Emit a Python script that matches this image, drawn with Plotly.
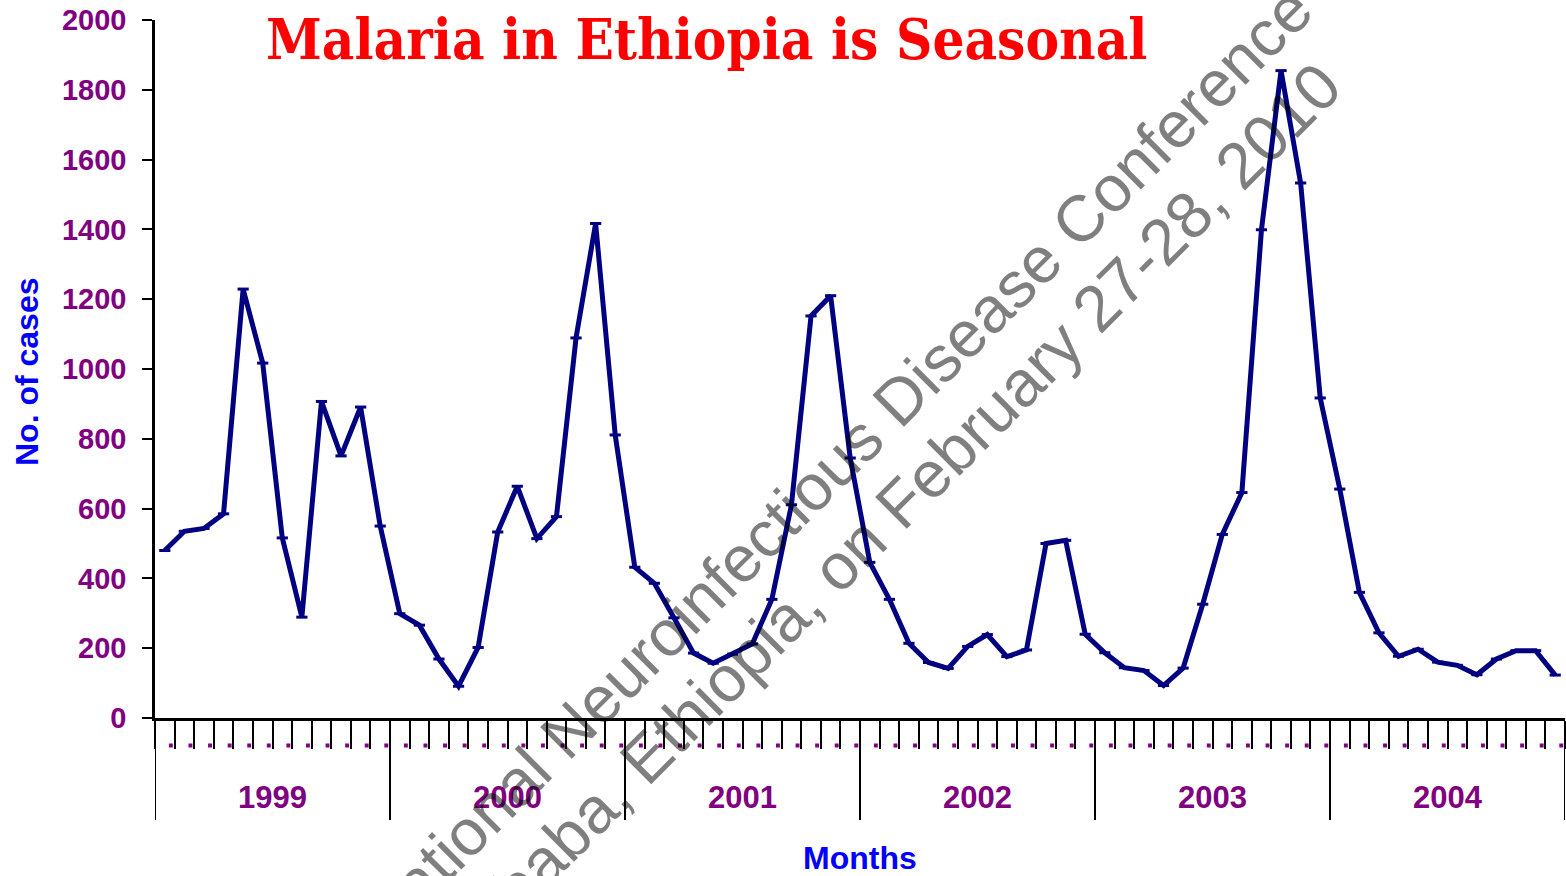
import plotly.graph_objects as go

# Monthly malaria cases, Jan 1999 - Dec 2004
years = ["1999", "2000", "2001", "2002", "2003", "2004"]
cases_1999 = [480, 535, 543, 585, 1229, 1017, 516, 289, 907, 751, 891, 550]
cases_2000 = [299, 266, 169, 91, 202, 533, 664, 514, 577, 1089, 1417, 811]
cases_2001 = [432, 386, 287, 186, 157, 183, 212, 340, 611, 1152, 1210, 745]
cases_2002 = [446, 340, 214, 159, 142, 205, 239, 176, 195, 500, 509, 240]
cases_2003 = [187, 144, 136, 93, 143, 326, 526, 646, 1399, 1855, 1533, 917]
cases_2004 = [656, 360, 244, 177, 197, 160, 151, 124, 169, 193, 193, 123]
y_ticks = [0, 200, 400, 600, 800, 1000, 1200, 1400, 1600, 1800, 2000]

cases = cases_1999 + cases_2000 + cases_2001 + cases_2002 + cases_2003 + cases_2004
n_months = len(cases)
month_pos = [i + 0.5 for i in range(n_months)]

W, H = 1566, 876
ML, MR, MT, MB = 155, 1, 20, 158
plot_h = H - MT - MB
plot_w = W - ML - MR


def py(px_y):
    """Convert a pixel row to paper y."""
    return (H - MB - px_y) / plot_h


def px(px_x):
    return (px_x - ML) / plot_w


NAVY = "#000080"
PURPLE = "#800080"

fig = go.Figure()
fig.add_trace(go.Scatter(
    x=month_pos, y=cases, mode="lines+markers",
    line=dict(color=NAVY, width=5),
    marker=dict(symbol="line-ew", size=8, line=dict(color=NAVY, width=3)),
    hoverinfo="skip", showlegend=False,
))

shapes = []
# year separators hanging below the category axis
for k in range(len(years) + 1):
    shapes.append(dict(type="line", xref="x", yref="paper",
                       x0=12 * k, x1=12 * k, y0=0, y1=py(820),
                       line=dict(color="black", width=2)))
# small purple marks beside every month boundary
for b in range(1, n_months + 1):
    shapes.append(dict(type="rect", xref="x", yref="paper",
                       x0=b - 0.29, x1=b - 0.09, y0=py(747.5), y1=py(743.5),
                       fillcolor=PURPLE, line=dict(width=0)))

annotations = []
for k, yr in enumerate(years):
    annotations.append(dict(
        x=12 * k + 6, y=py(797), xref="x", yref="paper", text=yr,
        showarrow=False, xanchor="center", yanchor="middle",
        font=dict(family="Liberation Sans", size=31, color=PURPLE, weight="bold")))

annotations += [
    dict(x=0.5, y=py(858), xref="paper", yref="paper", text="Months",
         showarrow=False, xanchor="center", yanchor="middle",
         font=dict(family="Liberation Sans", size=32, color="#0000FF", weight="bold")),
    dict(x=px(27), y=py(372), xref="paper", yref="paper", text="No. of cases",
         showarrow=False, textangle=-90, xanchor="center", yanchor="middle",
         font=dict(family="Liberation Sans", size=32, color="#0000FF", weight="bold")),
    dict(x=px(706), y=py(39), xref="paper", yref="paper",
         text="Malaria in Ethiopia is Seasonal",
         showarrow=False, xanchor="center", yanchor="middle",
         font=dict(family="DejaVu Serif Condensed", size=56, color="#FF0000", weight="bold")),
    dict(x=px(793), y=py(505), xref="paper", yref="paper",
         text="International Neuroinfectious Disease Conference",
         showarrow=False, textangle=-45, xanchor="center", yanchor="middle",
         font=dict(family="Liberation Sans", size=65, color="rgba(0,0,0,0.5)")),
    dict(x=px(815), y=py(588), xref="paper", yref="paper",
         text="in Addis Ababa, Ethiopia, on February 27-28, 2010",
         showarrow=False, textangle=-45, xanchor="center", yanchor="middle",
         font=dict(family="Liberation Sans", size=65, color="rgba(0,0,0,0.5)")),
]

fig.update_layout(
    width=W, height=H,
    margin=dict(l=ML, r=MR, t=MT, b=MB),
    paper_bgcolor="white", plot_bgcolor="white",
    shapes=shapes, annotations=annotations,
    xaxis=dict(range=[0, n_months], tickvals=list(range(n_months + 1)),
               ticks="outside", ticklen=28, tickwidth=2, tickcolor="black",
               showticklabels=False, showline=True, linecolor="black", linewidth=2.5,
               showgrid=False, zeroline=False, fixedrange=True),
    yaxis=dict(range=[0, 2000], tickvals=y_ticks,
               ticks="outside", ticklen=10, tickwidth=2, tickcolor="black",
               ticklabelstandoff=10,
               tickfont=dict(family="Liberation Sans", size=29, color=PURPLE, weight="bold"),
               showline=True, linecolor="black", linewidth=2.5,
               showgrid=False, zeroline=False, fixedrange=True),
)

fig.write_html("out.html")
